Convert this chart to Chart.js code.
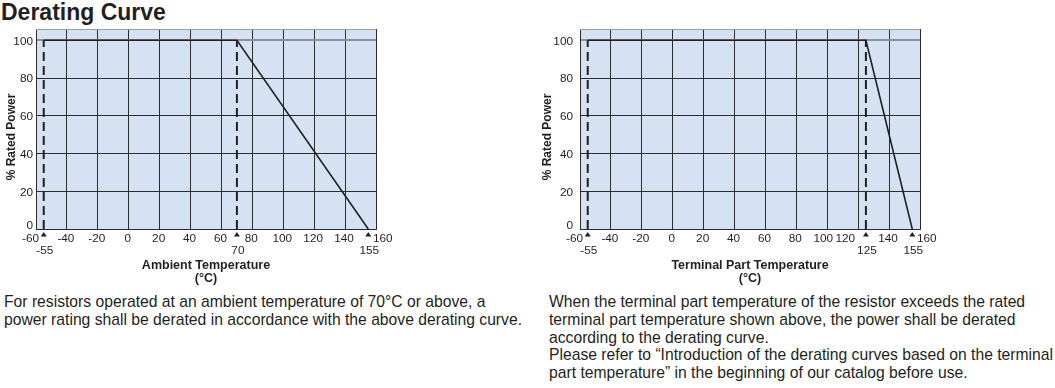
<!DOCTYPE html>
<html>
<head>
<meta charset="utf-8">
<script src="https://cdn.jsdelivr.net/npm/chart.js@4"></script>
<style>
  body { margin: 0; width: 1055px; height: 388px; background: #fff; position: relative; overflow: hidden;
         font-family: "Liberation Sans", Arial, Helvetica, sans-serif; color: #231f20; }
  h1 { position: absolute; left: 1px; top: -1px; margin: 0; font-size: 23px; font-weight: bold; }
  .box { position: absolute; top: 0; width: 420px; height: 290px; }
  .note { position: absolute; top: 293px; margin: 0; font-size: 15.7px; line-height: 17.8px; white-space: nowrap; }
</style>
</head>
<body>
<h1>Derating Curve</h1>
<div class="box" style="left:0"><canvas id="ambient" width="420" height="290"></canvas></div>
<div class="box" style="left:534px"><canvas id="terminal" width="420" height="290"></canvas></div>
<p class="note" style="left:4px">For resistors operated at an ambient temperature of 70°C or above, a<br>power rating shall be derated in accordance with the above derating curve.</p>
<p class="note" style="left:549px">When the terminal part temperature of the resistor exceeds the rated<br>terminal part temperature shown above, the power shall be derated<br>according to the derating curve.<br>Please refer to “Introduction of the derating curves based on the terminal<br>part temperature” in the beginning of our catalog before use.</p>
<script>
// data
const ambientTemp = [-55, 70, 155]
const ambientPower = [100, 100, 0]
const ambientDashes = [-55, 70]

const terminalTemp = [-55, 125, 155]
const terminalPower = [100, 100, 0]
const terminalDashes = [-55, 125]

const xTicks = [-60, -40, -20, 0, 20, 40, 60, 80, 100, 120, 140, 160]
const yTicks = [0, 20, 40, 60, 80, 100]

const FONT = '"Liberation Sans", Arial, Helvetica, sans-serif'
const INK = '#231f20'
const GRID = '#2b2b2b'
const PLOT_BG = '#d5e2f3'
const CANVAS_W = 420

// background, tick labels, little triangles, titles
const decor = {
  id: 'decor',
  beforeDraw(chart) {
    const { ctx, chartArea: a } = chart
    ctx.save()
    ctx.fillStyle = PLOT_BG
    ctx.fillRect(a.left, a.top, a.right - a.left, a.bottom - a.top)
    ctx.restore()
  },
  afterDraw(chart, args, opt) {
    const { ctx, chartArea: a, scales: { x, y } } = chart
    ctx.save()
    // top edge is grey in the original
    ctx.strokeStyle = '#9a9ea6'
    ctx.lineWidth = 1
    ctx.beginPath()
    ctx.moveTo(a.left, a.top + 0.5)
    ctx.lineTo(a.right, a.top + 0.5)
    ctx.stroke()

    ctx.fillStyle = INK
    ctx.textBaseline = 'middle'
    ctx.font = `11.8px ${FONT}`
    // y labels, the 0 sits a bit higher so it clears the -60
    ctx.textAlign = 'right'
    yTicks.forEach(v => {
      const py = Math.min(y.getPixelForValue(v) + 1, a.bottom - 3.5)
      ctx.fillText(String(v), a.left - opt.tickPad, py)
    })
    // x labels move aside when a triangle is close
    const nearRight = v => opt.marks.some(m => m > v && m - v <= 5)
    const nearLeft = v => opt.marks.some(m => m < v && v - m <= 5)
    xTicks.forEach((v, i) => {
      const px = x.getPixelForValue(v)
      if (nearRight(v)) {
        ctx.textAlign = 'right'
        ctx.fillText(String(v), i === 0 ? px + 3 : px - 3, a.bottom + 9.5)
      } else if (nearLeft(v)) {
        ctx.textAlign = 'left'
        ctx.fillText(String(v), px - 3, a.bottom + 9.5)
      } else {
        // make room when the next label got pushed left
        const squeezed = i + 1 < xTicks.length && nearRight(xTicks[i + 1])
        ctx.textAlign = 'center'
        ctx.fillText(String(v), squeezed ? px - 4 : px - 1, a.bottom + 9.5)
      }
    })
    // triangles with the temperature under them
    opt.marks.forEach(m => {
      const px = x.getPixelForValue(m)
      ctx.beginPath()
      ctx.moveTo(px, a.bottom + 3)
      ctx.lineTo(px + 3, a.bottom + 7.5)
      ctx.lineTo(px - 3, a.bottom + 7.5)
      ctx.closePath()
      ctx.fill()
      ctx.textAlign = 'center'
      ctx.fillText(String(m), px + 1, a.bottom + 22)
    })
    // x title
    ctx.font = `bold 12.5px ${FONT}`
    const cx = (a.left + a.right) / 2
    ctx.fillText(opt.xTitle, cx, a.bottom + 37)
    ctx.fillText('(°C)', cx, a.bottom + 50)
    // y title
    ctx.translate(a.left - opt.yTitleGap, 137)
    ctx.rotate(-Math.PI / 2)
    ctx.font = `bold 12px ${FONT}`
    ctx.fillText('% Rated Power', 0, 0)
    ctx.restore()
  }
}

function makeChart(id, temps, power, dashes, xTitle, tickPad, yTitleGap, padLeft) {
  const datasets = [{
    data: temps.map((t, i) => ({ x: t, y: power[i] })),
    borderColor: INK,
    borderWidth: 1.6,
    pointRadius: 0,
    showLine: true
  }]
  dashes.forEach(d => {
    datasets.push({
      data: [{ x: d, y: 0 }, { x: d, y: power[temps.indexOf(d)] }],
      borderColor: INK,
      borderWidth: 2,
      borderDash: [9, 5],
      pointRadius: 0,
      showLine: true
    })
  })
  return new Chart(document.getElementById(id), {
    type: 'scatter',
    data: { datasets },
    options: {
      responsive: false,
      animation: false,
      layout: { padding: { top: 29, right: CANVAS_W - 36 - 340 - padLeft, left: padLeft, bottom: 0 } },
      plugins: {
        legend: { display: false },
        tooltip: { enabled: false },
        decor: { marks: temps, xTitle, yTitleGap, tickPad }
      },
      scales: {
        x: {
          type: 'linear',
          min: xTicks[0],
          max: xTicks[xTicks.length - 1],
          afterBuildTicks: s => { s.ticks = xTicks.map(v => ({ value: v })) },
          ticks: { display: false },
          grid: { color: GRID, lineWidth: 1, drawTicks: false },
          border: { color: GRID, width: 1 },
          afterFit: s => { s.height = 61 }
        },
        y: {
          min: 0,
          max: 106,
          afterBuildTicks: s => { s.ticks = yTicks.map(v => ({ value: v })) },
          ticks: { display: false },
          grid: {
            color: c => (c.tick && c.tick.value === 100 ? '#8c9099' : GRID),
            lineWidth: c => (c.tick && c.tick.value === 100 ? 2 : 1),
            drawTicks: false
          },
          border: { color: GRID, width: 1 },
          afterFit: s => { s.width = 36 }
        }
      }
    },
    plugins: [decor]
  })
}

makeChart('ambient', ambientTemp, ambientPower, ambientDashes, 'Ambient Temperature', 3, 24, 0)
makeChart('terminal', terminalTemp, terminalPower, terminalDashes, 'Terminal Part Temperature', 7, 32, 10)
</script>
</body>
</html>
